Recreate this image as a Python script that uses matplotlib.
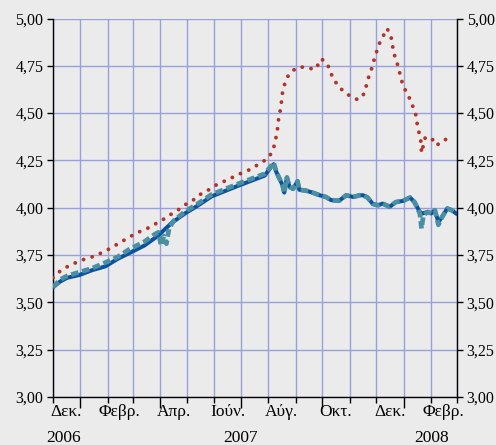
import matplotlib
matplotlib.use("Agg")
import matplotlib.pyplot as plt
import matplotlib.dates as mdates
import matplotlib.transforms as mtransforms
import pandas as pd

# dark blue solid series
blue_dates = ["2006-12-01", "2006-12-09", "2006-12-17", "2006-12-31", "2007-01-14", "2007-01-29",
              "2007-02-12", "2007-02-25", "2007-03-14", "2007-03-29", "2007-04-14", "2007-04-29",
              "2007-05-13", "2007-05-29", "2007-06-14", "2007-06-30", "2007-07-17", "2007-07-28",
              "2007-08-04", "2007-08-07", "2007-08-10", "2007-08-14", "2007-08-17", "2007-08-19",
              "2007-08-22", "2007-08-25", "2007-08-29", "2007-09-03", "2007-09-05", "2007-09-13",
              "2007-09-20", "2007-09-28", "2007-10-05", "2007-10-11", "2007-10-20", "2007-10-28",
              "2007-11-05", "2007-11-12", "2007-11-16", "2007-11-21", "2007-11-27", "2007-12-03",
              "2007-12-08", "2007-12-16", "2007-12-23", "2007-12-31", "2008-01-08", "2008-01-13",
              "2008-01-19", "2008-01-22", "2008-01-28", "2008-02-01", "2008-02-05", "2008-02-09",
              "2008-02-13", "2008-02-19", "2008-02-24", "2008-02-29"]
blue_vals = [3.58, 3.61, 3.63, 3.645, 3.67, 3.69,
             3.73, 3.76, 3.80, 3.85, 3.92, 3.97,
             4.01, 4.06, 4.09, 4.12, 4.15, 4.17,
             4.215, 4.23, 4.19, 4.15, 4.12, 4.08,
             4.16, 4.11, 4.10, 4.14, 4.095, 4.09,
             4.08, 4.066, 4.057, 4.04, 4.037, 4.066,
             4.057, 4.066, 4.066, 4.054, 4.02, 4.013,
             4.022, 4.005, 4.03, 4.036, 4.054, 4.03,
             3.978, 3.97, 3.978, 3.97, 3.987, 3.925,
             3.95, 3.996, 3.987, 3.97]

# teal dashed series
teal_dates = ["2006-12-01", "2006-12-09", "2006-12-17", "2006-12-31", "2007-01-14", "2007-01-29",
              "2007-02-12", "2007-02-25", "2007-03-14", "2007-03-26", "2007-03-30", "2007-04-02",
              "2007-04-05", "2007-04-08", "2007-04-11", "2007-04-16", "2007-04-29", "2007-05-13",
              "2007-05-29", "2007-06-14", "2007-06-30", "2007-07-17", "2007-07-28", "2007-08-04",
              "2007-08-07", "2007-08-10", "2007-08-14", "2007-08-17", "2007-08-19", "2007-08-22",
              "2007-08-25", "2007-08-29", "2007-09-03", "2007-09-05", "2007-09-13", "2007-09-20",
              "2007-09-28", "2007-10-05", "2007-10-11", "2007-10-20", "2007-10-28", "2007-11-05",
              "2007-11-12", "2007-11-16", "2007-11-21", "2007-11-27", "2007-12-03", "2007-12-08",
              "2007-12-16", "2007-12-23", "2007-12-31", "2008-01-08", "2008-01-13", "2008-01-19",
              "2008-01-21", "2008-01-23", "2008-01-28", "2008-02-01", "2008-02-05", "2008-02-09",
              "2008-02-13", "2008-02-19", "2008-02-24", "2008-02-29"]
teal_vals = [3.58, 3.62, 3.64, 3.66, 3.68, 3.71,
             3.74, 3.78, 3.82, 3.86, 3.87, 3.80,
             3.85, 3.81, 3.89, 3.93, 3.98, 4.02,
             4.07, 4.10, 4.13, 4.16, 4.18, 4.22,
             4.24, 4.19, 4.15, 4.12, 4.08, 4.16,
             4.11, 4.10, 4.14, 4.095, 4.09, 4.08,
             4.066, 4.057, 4.04, 4.037, 4.066, 4.057,
             4.066, 4.066, 4.054, 4.02, 4.013, 4.022,
             4.005, 4.03, 4.036, 4.054, 4.03, 3.97,
             3.89, 3.96, 3.978, 3.97, 3.987, 3.91,
             3.95, 3.996, 3.987, 3.97]

# red dotted series
red_dates = ["2006-12-01", "2006-12-09", "2006-12-17", "2006-12-25", "2007-01-02", "2007-01-11",
             "2007-01-19", "2007-01-27", "2007-02-04", "2007-02-11", "2007-02-19", "2007-02-27",
             "2007-03-08", "2007-03-16", "2007-03-24", "2007-04-01", "2007-04-09", "2007-04-16",
             "2007-04-24", "2007-05-01", "2007-05-09", "2007-05-16", "2007-05-24", "2007-05-31",
             "2007-06-09", "2007-06-17", "2007-06-25", "2007-07-03", "2007-07-12", "2007-07-19",
             "2007-07-28", "2007-08-03", "2007-08-07", "2007-08-09", "2007-08-11", "2007-08-13",
             "2007-08-15", "2007-08-17", "2007-08-19", "2007-08-22", "2007-08-27", "2007-09-04",
             "2007-09-13", "2007-09-22", "2007-09-27", "2007-09-30", "2007-10-07", "2007-10-10",
             "2007-10-14", "2007-10-19", "2007-10-25", "2007-11-02", "2007-11-10", "2007-11-16",
             "2007-11-19", "2007-11-21", "2007-11-24", "2007-11-27", "2007-11-29", "2007-12-02",
             "2007-12-05", "2007-12-09", "2007-12-13", "2007-12-17", "2007-12-19", "2007-12-20",
             "2007-12-25", "2007-12-27", "2007-12-29", "2008-01-01", "2008-01-05", "2008-01-09",
             "2008-01-12", "2008-01-15", "2008-01-16", "2008-01-18", "2008-01-20", "2008-01-21",
             "2008-01-25", "2008-02-01", "2008-02-06", "2008-02-14", "2008-02-20"]
red_vals = [3.63, 3.665, 3.688, 3.706, 3.723, 3.735,
            3.749, 3.767, 3.786, 3.806, 3.828, 3.85,
            3.872, 3.887, 3.908, 3.929, 3.951, 3.975,
            3.996, 4.022, 4.043, 4.07, 4.089, 4.113,
            4.133, 4.15, 4.168, 4.186, 4.203, 4.224,
            4.25, 4.277, 4.316, 4.356, 4.40, 4.483,
            4.525, 4.606, 4.646, 4.687, 4.72, 4.743,
            4.743, 4.73, 4.76, 4.787, 4.757, 4.717,
            4.678, 4.643, 4.615, 4.588, 4.571, 4.594,
            4.632, 4.673, 4.713, 4.754, 4.793, 4.835,
            4.875, 4.91, 4.947, 4.914, 4.871, 4.827,
            4.755, 4.719, 4.678, 4.637, 4.60, 4.564,
            4.524, 4.484, 4.444, 4.40, 4.36, 4.29,
            4.368, 4.372, 4.33, 4.346, 4.374]

month_labels = ["Δεκ.", "Φεβρ.", "Απρ.", "Ιούν.", "Αύγ.", "Οκτ.", "Δεκ.", "Φεβρ."]
month_label_dates = ["2006-12-16", "2007-02-14", "2007-04-16", "2007-06-16",
                     "2007-08-16", "2007-10-16", "2007-12-16", "2008-02-15"]
year_labels = ["2006", "2007", "2008"]
year_label_dates = ["2006-12-13", "2007-07-01", "2008-02-01"]

y_ticks = [3.00, 3.25, 3.50, 3.75, 4.00, 4.25, 4.50, 4.75, 5.00]

bg = "#ebebeb"
grid_c = "#97a0da"
plt.rcParams['font.family'] = ['Liberation Serif', 'DejaVu Serif']

fig = plt.figure(figsize=(4.96, 4.45), dpi=100, facecolor=bg)
ax = fig.add_axes([53 / 496, 48 / 445, 404 / 496, 378.5 / 445])
ax.set_facecolor(bg)

ax.plot(pd.to_datetime(blue_dates), blue_vals, color="#0a52a0", lw=2.9,
        solid_joinstyle="round", zorder=3)
ax.plot(pd.to_datetime(teal_dates), teal_vals, color="#4b8fa2", lw=3.4,
        linestyle=(0, (1.6, 0.8)), zorder=4)
ax.plot(pd.to_datetime(red_dates), red_vals, color="#b3332b", lw=2.8,
        linestyle=(0, (0.01, 2.3)), dash_capstyle="round", zorder=5)

ax.set_xlim(pd.Timestamp("2006-12-01"), pd.Timestamp("2008-03-01"))
ax.set_ylim(3.0, 5.0)

# month gridlines and ticks
ax.xaxis.set_major_locator(mdates.MonthLocator(bymonth=[1, 4, 7, 10]))
ax.xaxis.set_minor_locator(mdates.MonthLocator())
ax.xaxis.set_major_formatter(plt.NullFormatter())
ax.tick_params(axis="x", which="major", length=8, width=1, direction="out")
ax.tick_params(axis="x", which="minor", length=4, width=1, direction="out")
ax.grid(True, which="both", axis="x", color=grid_c, lw=1)

ax.set_yticks(y_ticks)
ax.set_yticklabels([f"{v:.2f}".replace(".", ",") for v in y_ticks])
ax.grid(True, axis="y", color=grid_c, lw=1)
ax.tick_params(axis="y", length=4, width=1, direction="out", labelsize=11.5,
               right=True, labelright=True, pad=3)
ax.set_axisbelow(True)

for s in ["left", "right", "bottom"]:
    ax.spines[s].set_color("black")
    ax.spines[s].set_linewidth(1)
ax.spines["top"].set_visible(False)

trans = mtransforms.blended_transform_factory(ax.transData, ax.transAxes)
for d, lab in zip(month_label_dates, month_labels):
    ax.annotate(lab, xy=(mdates.date2num(pd.Timestamp(d)), 0), xycoords=trans,
                xytext=(0, -10.5), textcoords="offset points",
                ha="center", va="center", fontsize=12.5, annotation_clip=False)
for d, lab in zip(year_label_dates, year_labels):
    ax.annotate(lab, xy=(mdates.date2num(pd.Timestamp(d)), 0), xycoords=trans,
                xytext=(0, -29.5), textcoords="offset points",
                ha="center", va="center", fontsize=12.5, annotation_clip=False)

fig.savefig("out.png", dpi=100, facecolor=bg)
